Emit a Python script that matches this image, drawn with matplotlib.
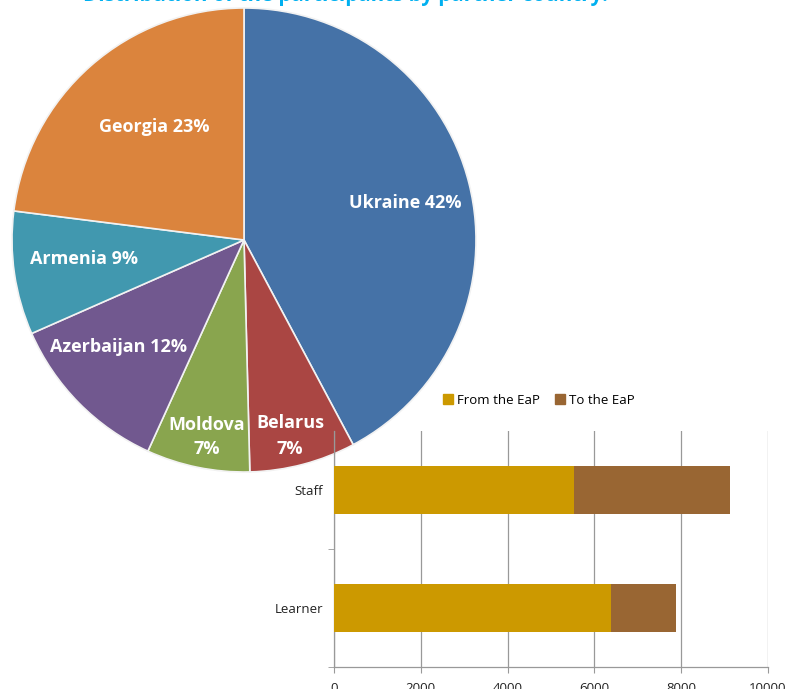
import matplotlib
matplotlib.use("Agg")
import matplotlib.pyplot as plt
from matplotlib.patches import Patch

# Pie data (shares; labels show rounded %)
countries = ["Ukraine", "Belarus", "Moldova", "Azerbaijan", "Armenia", "Georgia"]
shares = [42.2, 7.4, 7.2, 11.6, 8.6, 23.0]
pie_colors = ["#4572A7", "#AA4643", "#89A54E", "#71588F", "#4198AF", "#DB843D"]

# Bar data
categories = ["Learner", "Staff"]
from_eap = [6380, 5520]
to_eap = [1490, 3610]
series_names = ["From the EaP", "To the EaP"]
bar_colors = ["#CC9900", "#996633"]
x_ticks = [0, 2000, 4000, 6000, 8000, 10000]

title = "Distribution of the participants by partner country:"

W, H = 790, 689
fig = plt.figure(figsize=(W / 100, H / 100), dpi=100)
fig.patch.set_facecolor("white")

def rect(l, t, r, b):
    return [l / W, (H - b) / H, (r - l) / W, (b - t) / H]

# Title (cut off at top, as in the reference): fit its width to the reference span
t = fig.text(83 / W, 1 - 0.6 / H, title,
             color="#00B0F0", fontsize=20, fontweight="bold", family="Open Sans",
             ha="left", va="baseline")
renderer = fig.canvas.get_renderer()
w = t.get_window_extent(renderer).width
t.set_fontsize(20 * 525.0 / w)

# Pie
cx, cy, r = 244, 240, 232
axp = fig.add_axes(rect(cx - r, cy - r, cx + r, cy + r))
wedges, _ = axp.pie(shares, colors=pie_colors, startangle=90, counterclock=False,
                    radius=1, wedgeprops=dict(edgecolor="#f2f2f2", linewidth=1.2))
axp.set_xlim(-1, 1)
axp.set_ylim(-1, 1)
axp.set_aspect("equal")
axp.axis("off")

label_pos = {
    "Ukraine": (405, 203, False),
    "Belarus": (290, 436, True),
    "Moldova": (207, 437, True),
    "Azerbaijan": (118, 347, False),
    "Armenia": (84, 259, False),
    "Georgia": (154, 127, False),
}
for name, s in zip(countries, shares):
    px, py, two = label_pos[name]
    pct = int(round(s))
    txt = f"{name}\n{pct}%" if two else f"{name} {pct}%"
    axp.text((px - cx) / r, -(py - cy) / r, txt, color="white", fontsize=13,
             fontweight="bold", family="Open Sans", ha="center", va="center",
             linespacing=1.5)

# Bar chart
axb = fig.add_axes(rect(334, 431, 768, 667))
y = list(range(len(categories)))
axb.barh(y, from_eap, height=0.4, color=bar_colors[0], label=series_names[0], zorder=3)
axb.barh(y, to_eap, left=from_eap, height=0.4, color=bar_colors[1], label=series_names[1], zorder=3)
axb.set_xlim(0, 10000)
axb.set_ylim(-0.5, len(categories) - 0.5)
axb.set_xticks(x_ticks)
axb.set_xticklabels([str(v) for v in x_ticks], fontsize=9.5, family="Open Sans", color="#222222")
axb.set_yticks(y)
axb.set_yticklabels(categories, fontsize=9.5, family="Open Sans", color="#222222")
axb.tick_params(axis="y", length=0, pad=8)
axb.set_yticks([-0.5, 0.5], minor=True)
axb.tick_params(axis="y", which="minor", length=4, color="#999999")
axb.tick_params(axis="x", length=4, color="#999999", pad=7, direction="out")
axb.grid(axis="x", color="#999999", linewidth=0.9, zorder=0)
for side in ["top", "right"]:
    axb.spines[side].set_visible(False)
for side in ["left", "bottom"]:
    axb.spines[side].set_color("#999999")
    axb.spines[side].set_linewidth(0.9)
axb.set_facecolor("none")

handles = [Patch(color=c, label=n) for c, n in zip(bar_colors, series_names)]
fig.legend(handles=handles, loc="center left", bbox_to_anchor=(431 / W, (H - 400) / H),
           ncol=2, frameon=False, handlelength=0.75, handleheight=0.75,
           handletextpad=0.3, columnspacing=1.2, prop={"family": "Open Sans", "size": 9.5})

fig.savefig("out.png", dpi=100, facecolor="white")
